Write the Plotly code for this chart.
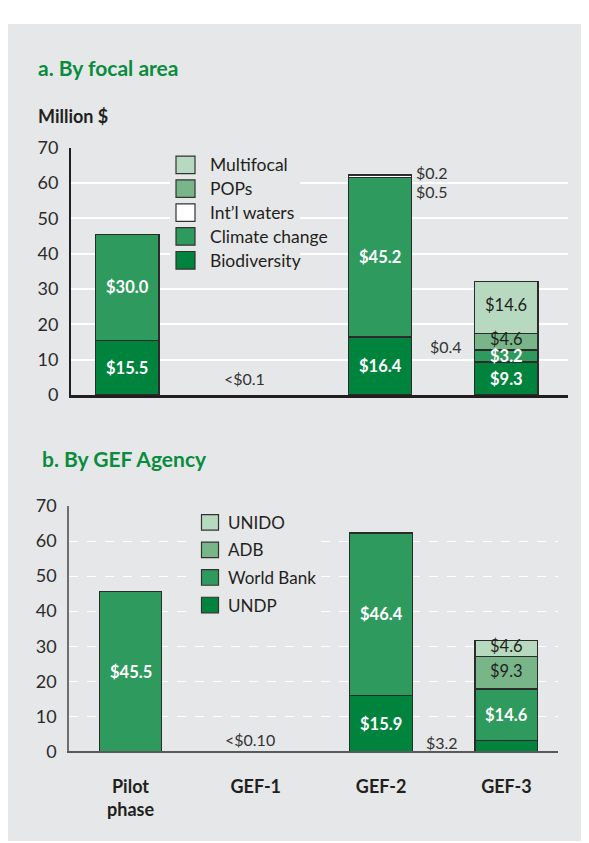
import plotly.graph_objects as go

W, H = 589, 843
OFF = 8  # page body margin of the browser
FONT = "Lato"
DARK = "#231f20"
GREEN_TITLE = "#0a8c3f"
BG = "#e6e7e8"

# ---------------------------------------------------------------
# data (million $)
# ---------------------------------------------------------------
periods = ["Pilot<br>phase", "GEF-1", "GEF-2", "GEF-3"]

focal_names = ["Biodiversity", "Climate change", "Int\u2019l waters", "POPs", "Multifocal"]
biodiversity = [15.5, None, 16.4, 9.3]
climate_change = [30.0, None, 45.2, 3.2]
intl_waters = [None, None, 0.5, 0.4]
pops = [None, None, None, 4.6]
multifocal = [None, None, 0.2, 14.6]

agency_names = ["UNDP", "World Bank", "ADB", "UNIDO"]
undp = [None, 0.08, 15.9, 3.2]
world_bank = [45.5, None, 46.4, 14.6]
adb = [None, None, None, 9.3]
unido = [None, None, None, 4.6]

tiny_labels = ["<$0.1", "<$0.10"]
y_ticks = [0, 10, 20, 30, 40, 50, 60, 70]

focal_series = [biodiversity, climate_change, intl_waters, pops, multifocal]
agency_series = [undp, world_bank, adb, unido]

focal_colors = ["#00843d", "#2e9a5e", "#ffffff", "#78b68a", "#b7d9c0"]
agency_colors = ["#00843d", "#2e9a5e", "#78b68a", "#b7d9c0"]
light = {"#ffffff", "#78b68a", "#b7d9c0"}


def px(x):
    return (x - OFF) / W


def py(y):
    return 1 - (y - OFF) / H


fig = go.Figure()

for name, vals, col in zip(focal_names, focal_series, focal_colors):
    fig.add_bar(x=periods, y=vals, name=name, marker_color=col,
                marker_line=dict(color="#2b2b2b", width=1.2), width=0.5,
                xaxis="x", yaxis="y", showlegend=False)

for name, vals, col in zip(agency_names, agency_series, agency_colors):
    fig.add_bar(x=periods, y=vals, name=name, marker_color=col,
                marker_line=dict(color="#2b2b2b", width=1.2), width=0.5,
                xaxis="x2", yaxis="y2", showlegend=False)


def mid(series, i, k):
    base = sum(s[k] or 0 for s in series[:i])
    return base + series[i][k] / 2


def segment_labels(series, colors, xr, yr, special):
    # special: (category, series index) -> (xanchor, xshift, yshift)
    for i, vals in enumerate(series):
        for k, v in enumerate(vals):
            if v is None or k == 1:
                continue
            txt = f"${v:.1f}"
            if (k, i) in special:
                xa, xs, ys = special[(k, i)]
                fig.add_annotation(x=periods[k], y=mid(series, i, k), xref=xr, yref=yr,
                                   text=txt, showarrow=False, xanchor=xa, xshift=xs,
                                   yshift=ys, font=dict(family=FONT, size=16, color="#333333"))
            elif colors[i] in light:
                fig.add_annotation(x=periods[k], y=mid(series, i, k), xref=xr, yref=yr,
                                   text=txt, showarrow=False, yshift=2,
                                   font=dict(family=FONT, size=16.5, color=DARK))
            else:
                fig.add_annotation(x=periods[k], y=mid(series, i, k), xref=xr, yref=yr,
                                   text=f"<b>{txt}</b>", showarrow=False,
                                   font=dict(family=FONT, size=16.5, color="white"))


segment_labels(focal_series, focal_colors, "x", "y",
               {(2, 2): ("left", 34, -15), (2, 4): ("left", 34, 3),
                (3, 2): ("right", -42, 4)})
segment_labels(agency_series, agency_colors, "x2", "y2",
               {(3, 0): ("right", -46, 3)})

# GEF-1 tiny amounts
fig.add_annotation(x=periods[1], y=0, xref="x", yref="y", text=tiny_labels[0],
                   showarrow=False, xshift=-9, yshift=16,
                   font=dict(family=FONT, size=16, color="#333333"))
fig.add_annotation(x=periods[1], y=0, xref="x2", yref="y2", text=tiny_labels[1],
                   showarrow=False, xshift=-6, yshift=12,
                   font=dict(family=FONT, size=16, color="#333333"))

# panel background
shapes = [dict(type="rect", xref="paper", yref="paper", x0=0, x1=1, y0=0, y1=py(12),
               fillcolor=BG, line_width=0, layer="below")]

# legends drawn by hand (legend area hides the gridlines)
shapes.append(dict(type="rect", xref="paper", yref="paper", x0=px(170), x1=px(300),
                   y0=py(265), y1=py(145), fillcolor=BG, line_width=0, layer="above"))
shapes.append(dict(type="rect", xref="paper", yref="paper", x0=px(195), x1=px(316),
                   y0=py(621), y1=py(503), fillcolor=BG, line_width=0, layer="above"))

annotations = []
for j, (name, col) in enumerate(zip(focal_names[::-1], focal_colors[::-1])):
    yc = 156.7 + j * 24.5
    shapes.append(dict(type="rect", xref="paper", yref="paper", x0=px(176), x1=px(195),
                       y0=py(yc + 9), y1=py(yc - 9), fillcolor=col,
                       line=dict(color="#333333", width=1.2), layer="above"))
    annotations.append(dict(x=px(208), y=py(yc), xref="paper", yref="paper", text=name,
                            showarrow=False, xanchor="left", yanchor="middle",
                            font=dict(family=FONT, size=17.5, color=DARK)))

for j, (name, col) in enumerate(zip(agency_names[::-1], agency_colors[::-1])):
    yc = 523.8 + j * 28.3
    shapes.append(dict(type="rect", xref="paper", yref="paper", x0=px(201.5), x1=px(218.5),
                       y0=py(yc + 8), y1=py(yc - 8), fillcolor=col,
                       line=dict(color="#333333", width=1.2), layer="above"))
    annotations.append(dict(x=px(226), y=py(yc), xref="paper", yref="paper", text=name,
                            showarrow=False, xanchor="left", yanchor="middle",
                            font=dict(family=FONT, size=17, color=DARK)))

# titles
annotations += [
    dict(x=px(36), y=py(57), xref="paper", yref="paper", text="<b>a. By focal area</b>",
         showarrow=False, xanchor="left", yanchor="middle",
         font=dict(family=FONT, size=21, color=GREEN_TITLE)),
    dict(x=px(36), y=py(107), xref="paper", yref="paper", text="<b>Million $</b>",
         showarrow=False, xanchor="left", yanchor="middle",
         font=dict(family=FONT, size=18, color=DARK)),
    dict(x=px(40), y=py(458), xref="paper", yref="paper", text="<b>b. By GEF Agency</b>",
         showarrow=False, xanchor="left", yanchor="middle",
         font=dict(family=FONT, size=21, color=GREEN_TITLE)),
]
for a in annotations:
    fig.add_annotation(**a)

yaxis_common = dict(range=[0, 70], tickvals=y_ticks, ticks="", showline=True,
                    zeroline=False, ticklabelstandoff=7,
                    tickfont=dict(family=FONT, size=18, color="#2b2b2b"))

fig.update_layout(
    width=W, height=H,
    margin=dict(l=0, r=0, t=0, b=0),
    paper_bgcolor="white",
    plot_bgcolor="rgba(0,0,0,0)",
    barmode="stack",
    showlegend=False,
    shapes=shapes,
    xaxis=dict(domain=[px(71), px(568)], range=[-0.447, 3.487], showticklabels=False,
               showline=True, linecolor=DARK, linewidth=2.5, ticks="", showgrid=False,
               fixedrange=True),
    yaxis=dict(domain=[py(393), py(139)], linecolor=DARK, linewidth=2,
               showgrid=True, gridcolor="white", gridwidth=1.5, **yaxis_common),
    xaxis2=dict(domain=[px(69), px(558)], range=[-0.491, 3.412], showline=True,
                linecolor="#58595b", linewidth=2, ticks="", showgrid=False,
                ticklabelstandoff=18, anchor="y2",
                tickfont=dict(family=FONT, size=18, color=DARK, weight="bold")),
    yaxis2=dict(domain=[py(759), py(507)], anchor="x2", linecolor="#6d6e70", linewidth=1.5,
                showgrid=True, gridcolor="white", gridwidth=1.2, griddash="dash",
                **yaxis_common),
)

fig.write_html("out.html")
